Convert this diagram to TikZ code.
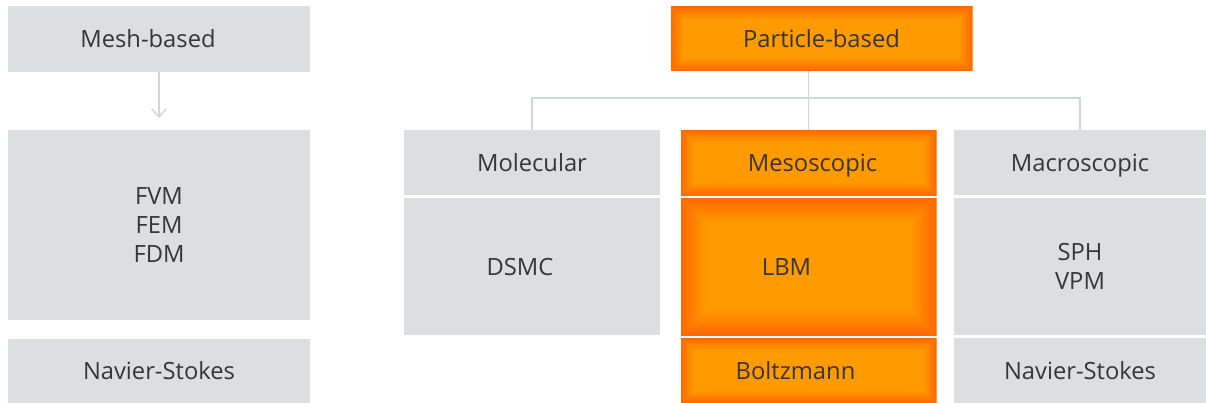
\documentclass[tikz,border=0pt]{standalone}
\usepackage{fontspec}
\setmainfont{Open Sans}
\usetikzlibrary{arrows.meta}

\definecolor{boxgray}{HTML}{DCDEDF}
\definecolor{linegray}{HTML}{D3D6D8}
\definecolor{txtgray}{HTML}{363636}
\definecolor{orangeL}{HTML}{FF9A00}
\definecolor{orangeD}{HTML}{FF6A00}

\tikzset{every picture/.style={line width=0.75pt}}
\tikzset{
  cell/.style={inner sep=0pt, outer sep=0pt, text=txtgray, align=center,
    font=\fontsize{17.8}{21.5}\selectfont},
  oneline/.style={text height=14pt, text depth=1.2pt},
  nudge/.style={execute at begin node={\hspace*{#1}}},
  graycell/.style={cell, fill=boxgray},
  glowcell/.style={cell, fill=orangeL, path picture={
    \foreach \k in {1,...,10}{
      \pgfmathsetmacro\lw{#1*(11-\k)/10}
      \pgfmathtruncatemacro\p{\k*10}
      \draw[line width=\lw pt, orangeD!\p!orangeL]
        (path picture bounding box.south west) rectangle (path picture bounding box.north east);
    }}},
  glowcell/.default=18,
  colA/.style={minimum width=226.5pt},
  colB/.style={minimum width=192pt},
  colC/.style={minimum width=191.25pt},
  colD/.style={minimum width=189pt},
  link/.style={draw=linegray, line width=1.1pt}
}

\begin{document}
\begin{tikzpicture}[x=0.75pt,y=0.75pt,yscale=-1]
\useasboundingbox (0,0) rectangle (1206,403);

%Mesh-based column
\node[graycell, oneline, nudge=-16.5pt, colA, minimum height=49.5pt] (mesh) at (159,39) {Mesh-based};
\node[graycell, colA, minimum height=142.5pt] (fvm) at (159,225) {FVM\\FEM\\FDM};
\node[graycell, oneline, colA, minimum height=48pt] (nsA) at (159,371) {Navier-Stokes};

%Particle-based root
\node[glowcell, oneline, minimum width=225.75pt, minimum height=48pt] (part) at (821.5,39) {Particle-based};

%Molecular column
\node[graycell, oneline, colB, minimum height=48.75pt] (mol) at (532,162.5) {Molecular};
\node[graycell, oneline, nudge=-18pt, colB, minimum height=102.75pt] (dsmc) at (532,266.5) {DSMC};

%Mesoscopic column
\node[glowcell, oneline, nudge=6pt, colC, minimum height=48.75pt] (meso) at (808.5,162.5) {Mesoscopic};
\node[glowcell=36, oneline, nudge=-33pt, colC, minimum height=102.75pt] (lbm) at (808.5,266.5) {LBM};
\node[glowcell, oneline, nudge=-19.5pt, colC, minimum height=48.75pt] (boltz) at (808.5,370.5) {Boltzmann};

%Macroscopic column
\node[graycell, oneline, colD, minimum height=48.75pt] (macro) at (1080,162.5) {Macroscopic};
\node[graycell, colD, minimum height=102.75pt] (sph) at (1080,266.5) {SPH\\VPM};
\node[graycell, oneline, colD, minimum height=48.75pt] (nsB) at (1080,370.5) {Navier-Stokes};

%connectors
\coordinate (split) at (808.5,98);
\draw[link, -{Straight Barb[length=6pt,width=11pt]}, shorten >=9pt] (mesh.south) -- (fvm.north);
\draw[link] (meso.north |- part.south) -- (meso.north);
\draw[link] (mol.north) |- (split) -| (macro.north);

\end{tikzpicture}
\end{document}
